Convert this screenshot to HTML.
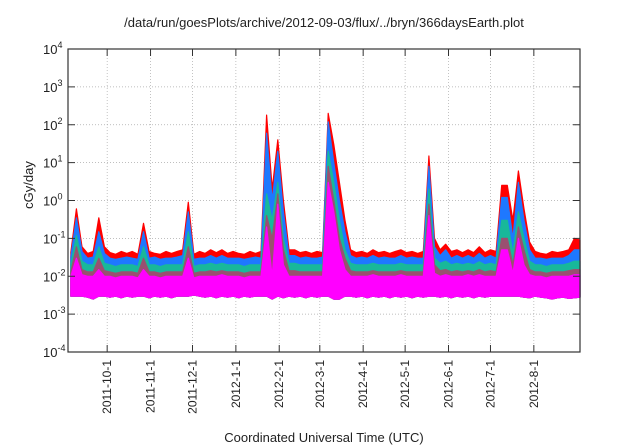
<!DOCTYPE html>
<html><head><meta charset="utf-8">
<style>
html,body{margin:0;padding:0;background:#fff;}
svg{display:block;font-family:"Liberation Sans",sans-serif;}
</style></head>
<body>
<svg id="chart" width="640" height="448" viewBox="0 0 640 448">
<rect width="640" height="448" fill="#fff"/>
<text x="324" y="27" font-size="13" text-anchor="middle" fill="#222">/data/run/goesPlots/archive/2012-09-03/flux/../bryn/366daysEarth.plot</text>
<text transform="translate(33,185) rotate(-90)" font-size="13" text-anchor="middle" fill="#222">cGy/day</text>
<text x="324" y="442" font-size="13" text-anchor="middle" fill="#222">Coordinated Universal Time (UTC)</text>
<g id="grid"></g>
<g id="series"></g>
<g id="axes"></g>
</svg>
<script>
// day index (from 2011-9-3), step 4 days
const stepDays = 4;
const redTop = [0.042,0.6,0.06,0.04,0.045,0.35,0.06,0.042,0.038,0.045,
0.04,0.045,0.038,0.25,0.045,0.04,0.038,0.045,0.04,0.045,
0.05,0.9,0.038,0.045,0.04,0.05,0.042,0.05,0.04,0.045,
0.04,0.038,0.045,0.04,0.045,180,2,40,1,0.05,
0.05,0.042,0.045,0.04,0.045,0.042,200,30,3,0.3,
0.05,0.042,0.045,0.04,0.05,0.042,0.045,0.04,0.045,0.05,
0.042,0.045,0.04,0.045,15,0.1,0.05,0.07,0.045,0.05,
0.042,0.05,0.042,0.06,0.042,0.05,0.045,2.5,2.5,0.3,
6,0.6,0.08,0.045,0.04,0.038,0.045,0.042,0.045,0.05,0.1,0.09];
const blueTop = [0.032,0.35,0.045,0.03,0.032,0.15,0.04,0.03,0.028,0.03,
0.032,0.03,0.028,0.15,0.03,0.032,0.028,0.03,0.03,0.032,
0.035,0.5,0.028,0.03,0.03,0.035,0.03,0.035,0.03,0.03,
0.03,0.028,0.03,0.032,0.03,60,1,20,0.5,0.035,
0.035,0.03,0.032,0.03,0.03,0.032,120,10,1,0.15,
0.035,0.03,0.032,0.03,0.035,0.03,0.032,0.03,0.03,0.035,
0.03,0.032,0.03,0.03,8,0.06,0.035,0.05,0.03,0.035,
0.03,0.035,0.03,0.04,0.03,0.035,0.03,1.2,1.2,0.1,
3,0.3,0.05,0.03,0.03,0.028,0.03,0.03,0.03,0.035,0.05,0.05];
const tealTop = [0.02,0.12,0.025,0.02,0.02,0.06,0.022,0.02,0.018,0.02,
0.02,0.02,0.018,0.06,0.02,0.02,0.018,0.02,0.02,0.02,
0.02,0.15,0.018,0.02,0.02,0.022,0.02,0.022,0.02,0.02,
0.02,0.018,0.02,0.02,0.02,1.5,0.3,3,0.1,0.022,
0.022,0.02,0.02,0.02,0.02,0.02,20,3,0.3,0.05,
0.022,0.02,0.02,0.02,0.022,0.02,0.02,0.02,0.02,0.022,
0.02,0.02,0.02,0.02,2,0.03,0.022,0.025,0.02,0.022,
0.02,0.022,0.02,0.024,0.02,0.022,0.02,0.3,0.3,0.04,
0.5,0.1,0.025,0.02,0.02,0.018,0.02,0.02,0.02,0.022,0.025,0.025];
const brownTop = [0.013,0.06,0.015,0.013,0.013,0.03,0.014,0.013,0.012,0.013,
0.013,0.013,0.012,0.03,0.013,0.013,0.012,0.013,0.013,0.013,
0.013,0.06,0.012,0.013,0.013,0.014,0.013,0.014,0.013,0.013,
0.013,0.012,0.013,0.013,0.013,0.4,0.1,1.5,0.05,0.014,
0.014,0.013,0.013,0.013,0.013,0.013,8,1,0.1,0.03,
0.014,0.013,0.013,0.013,0.014,0.013,0.013,0.013,0.013,0.014,
0.013,0.013,0.013,0.013,0.8,0.02,0.014,0.015,0.013,0.014,
0.013,0.014,0.013,0.015,0.013,0.014,0.013,0.1,0.1,0.02,
0.2,0.05,0.015,0.013,0.013,0.012,0.013,0.013,0.013,0.014,0.015,0.015];
const magentaTop = [0.01,0.03,0.011,0.01,0.01,0.015,0.01,0.01,0.009,0.01,
0.01,0.01,0.009,0.015,0.01,0.01,0.009,0.01,0.01,0.01,
0.01,0.03,0.009,0.01,0.01,0.01,0.01,0.011,0.01,0.01,
0.01,0.009,0.01,0.01,0.01,0.2,0.01,0.8,0.02,0.01,
0.01,0.01,0.01,0.01,0.01,0.01,3,0.5,0.05,0.015,
0.01,0.01,0.01,0.01,0.011,0.01,0.01,0.01,0.01,0.011,
0.01,0.01,0.01,0.01,0.4,0.012,0.01,0.011,0.01,0.01,
0.01,0.011,0.01,0.011,0.01,0.01,0.01,0.05,0.05,0.012,
0.1,0.02,0.011,0.01,0.01,0.009,0.01,0.01,0.01,0.01,0.011,0.011];
const magentaBottom = [0.003,0.003,0.003,0.0028,0.0025,0.003,0.003,0.0028,0.003,0.0027,
0.003,0.0028,0.003,0.003,0.0027,0.003,0.0028,0.003,0.0027,0.003,
0.003,0.003,0.0032,0.003,0.0028,0.003,0.0027,0.003,0.0028,0.003,
0.0027,0.003,0.0028,0.003,0.003,0.003,0.0025,0.003,0.0027,0.003,
0.0028,0.003,0.0027,0.003,0.0028,0.003,0.003,0.0025,0.0025,0.003,
0.003,0.0028,0.003,0.0027,0.003,0.0028,0.003,0.0027,0.003,0.0028,
0.003,0.0027,0.003,0.0028,0.003,0.003,0.0028,0.003,0.0027,0.003,
0.0028,0.003,0.0027,0.003,0.0028,0.003,0.003,0.003,0.003,0.003,
0.003,0.0028,0.0027,0.003,0.0028,0.0027,0.0025,0.0027,0.0028,0.0026,0.0027,0.0028];
const yTickExps = [-4,-3,-2,-1,0,1,2,3,4];
const xTickLabels = ["2011-10-1","2011-11-1","2011-12-1","2012-1-1","2012-2-1","2012-3-1","2012-4-1","2012-5-1","2012-6-1","2012-7-1","2012-8-1"];
const xTickDays = [28,59,89,120,151,180,211,241,272,302,333];

const NS = "http://www.w3.org/2000/svg";
const L = 68, R = 580, T = 49, B = 352, totalDays = 366;
const xs = d => L + d / totalDays * (R - L);
const ys = v => B - (Math.log10(v) + 4) / 8 * (B - T);
function mk(tag, attrs, parent) {
  const e = document.createElementNS(NS, tag);
  for (const k in attrs) e.setAttribute(k, attrs[k]);
  parent.appendChild(e);
  return e;
}
const grid = document.getElementById('grid');
const axes = document.getElementById('axes');
const series = document.getElementById('series');

yTickExps.forEach(p => {
  const y = ys(Math.pow(10, p));
  if (p > -4 && p < 4) {
    const g = mk('line', {x1: L, x2: R, y1: y, y2: y, stroke: '#aaa', 'stroke-width': 0.7, 'stroke-dasharray': '1,2'}, grid);
    
    
  }
  const t1 = mk('line', {x1: L, x2: L + 7, y1: y, y2: y, stroke: '#333'}, axes);
  
  
  const t2 = mk('line', {x1: R - 7, x2: R, y1: y, y2: y, stroke: '#333'}, axes);
  
  
  const tx = mk('text', {x: 43, y: y + 5, 'font-size': 13, 'text-anchor': 'start', fill: '#222'}, axes);
  
  
  tx.appendChild(document.createTextNode('10'));
  const sup = mk('tspan', {dy: -6, 'font-size': 9}, tx);
  sup.textContent = String(p);
});

xTickDays.forEach((d, i) => {
  const x = xs(d);
  const g = mk('line', {x1: x, x2: x, y1: T, y2: B, stroke: '#aaa', 'stroke-width': 0.7, 'stroke-dasharray': '1,2'}, grid);
  
  
  const t1 = mk('line', {x1: x, x2: x, y1: B - 7, y2: B, stroke: '#333'}, axes);
  
  
  const t2 = mk('line', {x1: x, x2: x, y1: T, y2: T + 7, stroke: '#333'}, axes);
  
  
  const tx = mk('text', {transform: `translate(${x + 4},360) rotate(-90)`, 'font-size': 12, 'text-anchor': 'end', fill: '#222'}, axes);
  
  
  tx.textContent = xTickLabels[i];
});

function band(top, bottom, color, name) {
  let d = '';
  top.forEach((v, i) => { d += (i ? 'L' : 'M') + xs(Math.min(i * stepDays + 2, totalDays)).toFixed(1) + ',' + ys(v).toFixed(1); });
  for (let i = bottom.length - 1; i >= 0; i--) d += 'L' + xs(Math.min(i * stepDays + 2, totalDays)).toFixed(1) + ',' + ys(bottom[i]).toFixed(1);
  d += 'Z';
  const p = mk('path', {d: d, fill: color, stroke: color, 'stroke-width': 1.2, 'stroke-linejoin': 'round'}, series);
  
  
}
band(redTop, magentaBottom, '#ff0000', 'series-red');
band(blueTop, magentaBottom, '#1e78ff', 'series-blue');
band(tealTop, magentaBottom, '#18b89a', 'series-teal');
band(brownTop, magentaBottom, '#9a5070', 'series-brown');
band(magentaTop, magentaBottom, '#ff00ff', 'series-magenta');

const frame = mk('rect', {x: L, y: T, width: R - L, height: B - T, fill: 'none', stroke: '#333', 'stroke-width': 1.2}, axes);


</script>
</body></html>
